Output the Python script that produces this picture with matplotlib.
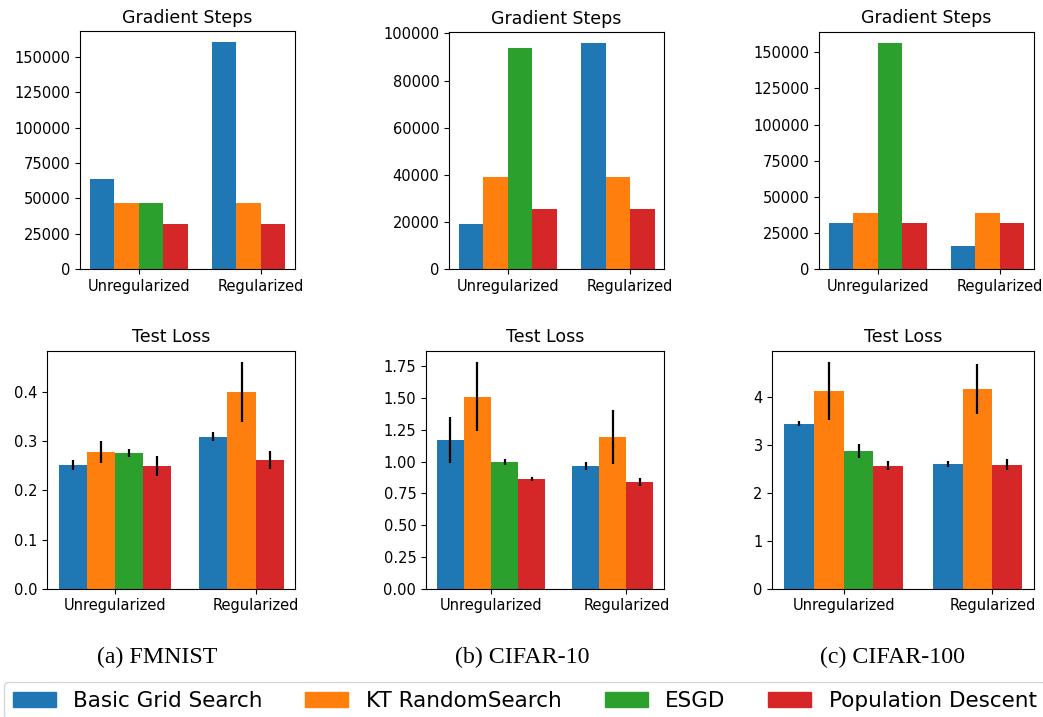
import numpy as np
import matplotlib
matplotlib.use("Agg")
import matplotlib.pyplot as plt
from matplotlib.patches import Patch

#Data
methods = ["Basic Grid Search", "KT RandomSearch", "ESGD", "Population Descent"]
colors = ["#1f77b4", "#ff7f0e", "#2ca02c", "#d62728"]
groups = ["Unregularized", "Regularized"]
# ESGD has no regularized run
unreg_methods = [0, 1, 2, 3]
reg_methods = [0, 1, 3]

fmnist_steps_unreg = [63700, 46800, 46800, 32000]
fmnist_steps_reg = [160100, 46800, 32000]
cifar10_steps_unreg = [19200, 39100, 93800, 25600]
cifar10_steps_reg = [95800, 39100, 25600]
cifar100_steps_unreg = [31900, 38800, 156300, 31900]
cifar100_steps_reg = [16100, 38800, 31900]

fmnist_loss_unreg = [0.252, 0.278, 0.276, 0.250]
fmnist_err_unreg = [0.010, 0.023, 0.008, 0.020]
fmnist_loss_reg = [0.309, 0.400, 0.262]
fmnist_err_reg = [0.009, 0.061, 0.019]
cifar10_loss_unreg = [1.172, 1.511, 0.998, 0.864]
cifar10_err_unreg = [0.183, 0.273, 0.026, 0.014]
cifar10_loss_reg = [0.967, 1.195, 0.841]
cifar10_err_reg = [0.030, 0.210, 0.029]
cifar100_loss_unreg = [3.437, 4.125, 2.873, 2.560]
cifar100_err_unreg = [0.050, 0.600, 0.143, 0.094]
cifar100_loss_reg = [2.602, 4.167, 2.581]
cifar100_err_reg = [0.066, 0.515, 0.115]

captions = ["(a) FMNIST", "(b) CIFAR-10", "(c) CIFAR-100"]

#Figure
W, H = 1043, 717
fig = plt.figure(figsize=(W / 100, H / 100), dpi=100)

def px_axes(left, right, top, bottom):
    return fig.add_axes([left / W, 1 - bottom / H, (right - left) / W, (bottom - top) / H])

width = 0.2

def draw(ax, title, vals_unreg, vals_reg, err_unreg=None, err_reg=None):
    for g, (idx, vals, errs) in enumerate([(unreg_methods, vals_unreg, err_unreg),
                                            (reg_methods, vals_reg, err_reg)]):
        for i, (m, v) in enumerate(zip(idx, vals)):
            e = None if errs is None else errs[i]
            ax.bar(g + (i - 1.5) * width, v, width, color=colors[m], yerr=e,
                   error_kw=dict(ecolor="black", elinewidth=1.6, capsize=0))
    ax.set_xticks(range(len(groups)))
    ax.set_xticklabels(groups, fontsize=10.5)
    ax.tick_params(axis="y", labelsize=10.5)
    ax.set_title(title, fontsize=12.5)

#Top row: gradient steps
ax1 = px_axes(80, 295, 31, 269.3)
ax2 = px_axes(449, 664.3, 32, 269.3)
ax3 = px_axes(819, 1034, 31.7, 269.3)
draw(ax1, "Gradient Steps", fmnist_steps_unreg, fmnist_steps_reg)
draw(ax2, "Gradient Steps", cifar10_steps_unreg, cifar10_steps_reg)
draw(ax3, "Gradient Steps", cifar100_steps_unreg, cifar100_steps_reg)

#Bottom row: test loss
ax4 = px_axes(47.3, 295, 350.7, 588.7)
ax5 = px_axes(426, 664.3, 350.7, 588.7)
ax6 = px_axes(772.3, 1034, 350.7, 588.7)
draw(ax4, "Test Loss", fmnist_loss_unreg, fmnist_loss_reg, fmnist_err_unreg, fmnist_err_reg)
draw(ax5, "Test Loss", cifar10_loss_unreg, cifar10_loss_reg, cifar10_err_unreg, cifar10_err_reg)
draw(ax6, "Test Loss", cifar100_loss_unreg, cifar100_loss_reg, cifar100_err_unreg, cifar100_err_reg)

#Captions
for x, cap in zip([157, 522, 893], captions):
    fig.text(x / W, 1 - 663 / H, cap, ha="center", va="baseline",
             fontsize=17.2, family="Liberation Serif")

#Legend
handles = [Patch(color=c, label=m) for c, m in zip(colors, methods)]
fig.legend(handles=handles, loc="upper left", bbox_to_anchor=(4 / W, 1 - 682 / H),
           ncol=4, fontsize=15.5, borderaxespad=0, frameon=True)

fig.savefig("out.png", dpi=100)
